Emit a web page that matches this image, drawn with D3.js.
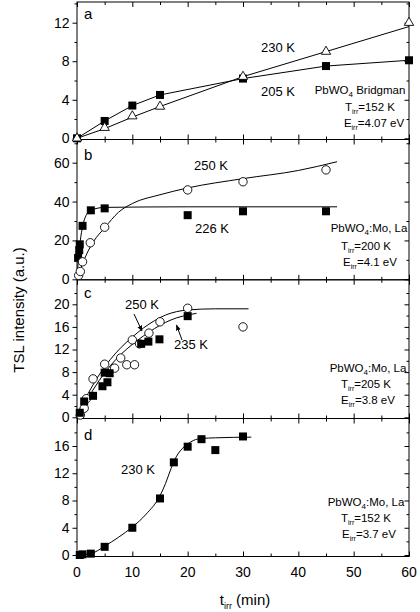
<!DOCTYPE html>
<meta charset="utf-8">
<style>
body { margin:0; background:#fff; }
text { font-family: "Liberation Sans", Arial, sans-serif; fill:#000; }
.domain { stroke:#000; }
.tick line { stroke:#000; }
</style>
<script src="https://d3js.org/d3.v7.min.js"></script>
<body>
<script>

var width = 420, height = 612

// x ticks (minutes)
var xMajor = [0,10,20,30,40,50,60]
var xMinor = [5,15,25,35,45,55]

// panel a : PbWO4 Bridgman
var a_t = [0,5,10,15,30,45,60]
var a_205 = [0,1.8,3.4,4.5,6.2,7.5,8.1]
var a_230 = [0,1.1,2.3,3.3,6.4,9.0,12.0]
var a_230fit = [[0,0],[5,1.0],[10,2.2],[15,3.3],[30,6.4],[45,9.0],[60,11.6]]

// panel b : PbWO4:Mo,La  Tirr=200 K
var b_t226 = [0.2,0.4,0.5,1,2.5,5,20,30,45]
var b_226 = [11,15,18,27.5,35.5,36.5,33,35,35]
var b_t250 = [0.3,0.6,1,2.4,5,20,30,45]
var b_250 = [2,4,9,18.8,26.8,46,50.2,56.3]
var b_226fit = [[0,0],[0.3,12],[0.6,20],[1,27],[1.5,32],[2.5,35.5],[5,37],[20,37.3],[47,37.3]]
var b_250fit = [[0,0],[1,8],[2,14.5],[3,19.5],[5,26.5],[7.5,34.5],[10,39],[15,43.5],[20,47],[30,51.8],[40,56],[47,60.5]]

// panel c : PbWO4:Mo,La  Tirr=205 K
var c_t250 = [0.6,1.3,1.7,2.9,5,6.8,7.9,9,10.4,10,11.3,13,15,20,30]
var c_250 = [0.4,1.6,3.3,6.8,9.4,8.7,10.5,9.3,9.3,13.7,13.0,14.9,16.9,19.3,16.0]
var c_t235 = [0.5,1.3,2.9,4.6,5.5,5,5.9,11.6,12.9,14.9,20]
var c_235 = [0.8,2.8,3.8,5.5,6.2,7.9,7.8,13.0,13.4,13.8,17.9]
var c_250fit = [[0,0.5],[2,4.2],[4,7.5],[6,10.2],[8,12.4],[10,14.2],[12,15.8],[14,17.1],[16,18.1],[18,18.7],[20,19.0],[25,19.2],[31,19.2]]
var c_235fit = [[0,0],[2,3.4],[4,6.5],[6,9.1],[8,11.2],[10,12.9],[12,14.4],[14,15.7],[16,16.8],[18,17.6],[20,18.1],[21.6,18.4]]

// panel d : PbWO4:Mo,La  Tirr=152 K
var d_t = [0.5,1,2.5,5,10,15,17.5,20,22.5,25,30]
var d_230 = [0,0.1,0.2,1.2,4.0,8.3,13.6,15.9,17.0,15.4,17.4]
var d_fit = [[0,0],[2.5,0.2],[5,1.3],[7.5,2.6],[10,4.1],[12.5,6],[15,8.7],[16,10.5],[17,12.7],[18,14.5],[19,15.6],[20,16.3],[21,16.8],[22.5,17.1],[25,17.2],[31.5,17.3]]

var x = d3.scaleLinear().domain([0,60]).range([77,409])

var svg = d3.select("body").append("svg").attr("width",width).attr("height",height)

var panels = [
  {id:"a", top:2, bottom:139.5, dom:[0,12], rng:[138.3,22.7], major:[0,4,8,12], minor:[2,6,10,14],
   letterY:19, note:["PbWO","4"," Bridgman"], noteX:[360,370,374], noteY:[94,111,127], T:"=152 K", E:"=4.07 eV"},
  {id:"b", top:139.5, bottom:279.8, dom:[0,60], rng:[279.3,162.7], major:[0,20,40,60], minor:[10,30,50,70],
   letterY:160, note:["PbWO","4",":Mo, La"], noteX:[369,366,370], noteY:[232,250,266], T:"=200 K", E:"=4.1 eV"},
  {id:"c", top:279.8, bottom:418.5, dom:[0,20], rng:[417.3,304.3], major:[0,4,8,12,16,20], minor:[2,6,10,14,18,22],
   letterY:298, note:["PbWO","4",":Mo, La"], noteX:[368,366,368], noteY:[372,388,404], T:"=205 K", E:"=3.8 eV"},
  {id:"d", top:418.5, bottom:556.5, dom:[0,16], rng:[555,446], major:[0,4,8,12,16], minor:[2,6,10,14,18],
   letterY:440, note:["PbWO","4",":Mo, La"], noteX:[366,366,369], noteY:[506,522,538], T:"=152 K", E:"=3.7 eV"}
]

panels.forEach(function(p){
  p.y = d3.scaleLinear().domain(p.dom).range(p.rng)
  var g = svg.append("g")
  var ticksIn = function(v){ return v.filter(function(t){ var py = p.y(t); return py>=p.top-0.5 && py<=p.bottom+0.5 }) }

  // left axis, outward ticks
  g.append("g").attr("transform","translate(77,0)")
    .call(d3.axisLeft(p.y).tickValues(ticksIn(p.minor)).tickSize(2.5).tickFormat(""))
    .call(function(s){ s.select(".domain").remove() })
  g.append("g").attr("transform","translate(77,0)")
    .call(d3.axisLeft(p.y).tickValues(p.major).tickSize(4.5).tickPadding(3))
    .call(function(s){ s.select(".domain").remove(); s.selectAll("text").style("font-size","14px") })
  // right axis, inward ticks
  g.append("g").attr("transform","translate(409,0)")
    .call(d3.axisRight(p.y).tickValues(p.major).tickSize(-4.5).tickFormat(""))
    .call(function(s){ s.select(".domain").remove() })
  g.append("g").attr("transform","translate(409,0)")
    .call(d3.axisRight(p.y).tickValues(ticksIn(p.minor)).tickSize(-2.5).tickFormat(""))
    .call(function(s){ s.select(".domain").remove() })
  // top / bottom inward ticks
  ;[[p.bottom,d3.axisBottom,-1],[p.top,d3.axisTop,-1]].forEach(function(e){
    g.append("g").attr("transform","translate(0,"+e[0]+")")
      .call(e[1](x).tickValues(xMajor).tickSize(-5).tickFormat(""))
      .call(function(s){ s.select(".domain").remove() })
    g.append("g").attr("transform","translate(0,"+e[0]+")")
      .call(e[1](x).tickValues(xMinor).tickSize(-3).tickFormat(""))
      .call(function(s){ s.select(".domain").remove() })
  })
  g.append("rect").attr("x",77).attr("y",p.top).attr("width",332).attr("height",p.bottom-p.top)
    .attr("fill","none").attr("stroke","#000").attr("stroke-width",1)

  g.append("text").attr("x",84).attr("y",p.letterY).style("font-size","15px").text(p.id)

  // sample note
  var fs = "11.5px"
  var t1 = g.append("text").attr("x",p.noteX[0]).attr("y",p.noteY[0]).attr("text-anchor","middle").style("font-size",fs)
  t1.append("tspan").text(p.note[0])
  t1.append("tspan").attr("dy",3).style("font-size","8px").text(p.note[1])
  t1.append("tspan").attr("dy",-3).text(p.note[2])
  var t2 = g.append("text").attr("x",p.noteX[1]).attr("y",p.noteY[1]).attr("text-anchor","middle").style("font-size",fs)
  t2.append("tspan").text("T")
  t2.append("tspan").attr("dy",3).style("font-size","7px").text("irr")
  t2.append("tspan").attr("dy",-3).text(p.T)
  var t3 = g.append("text").attr("x",p.noteX[2]).attr("y",p.noteY[2]).attr("text-anchor","middle").style("font-size",fs)
  t3.append("tspan").text("E")
  t3.append("tspan").attr("dy",3).style("font-size","7px").text("irr")
  t3.append("tspan").attr("dy",-3).text(p.E)
})

function line(p, pts, curve){
  svg.append("path").datum(pts)
    .attr("d", d3.line().x(function(d){return x(d[0])}).y(function(d){return p.y(d[1])}).curve(curve||d3.curveMonotoneX))
    .attr("fill","none").attr("stroke","#000").attr("stroke-width",1)
}
function squares(p, ts, vs){
  svg.append("g").selectAll("rect").data(ts).enter().append("rect")
    .attr("x",function(d){return x(d)-4}).attr("y",function(d,i){return p.y(vs[i])-4})
    .attr("width",8).attr("height",8).attr("fill","#000")
}
function circles(p, ts, vs){
  svg.append("g").selectAll("circle").data(ts).enter().append("circle")
    .attr("cx",function(d){return x(d)}).attr("cy",function(d,i){return p.y(vs[i])})
    .attr("r",4.2).attr("fill","#fff").attr("stroke","#000").attr("stroke-width",0.9)
}
function triangles(p, ts, vs){
  svg.append("g").selectAll("path").data(ts).enter().append("path")
    .attr("d",d3.symbol().type(d3.symbolTriangle).size(38))
    .attr("transform",function(d,i){return "translate("+x(d)+","+p.y(vs[i])+")"})
    .attr("fill","#fff").attr("stroke","#000").attr("stroke-width",0.9)
}
function label(tx, ty, s, fs){
  svg.append("text").attr("x",tx).attr("y",ty).attr("text-anchor","middle").style("font-size",fs||"13px").text(s)
}

var pa = panels[0], pb = panels[1], pc = panels[2], pd = panels[3]

// a
line(pa, a_t.map(function(t,i){return [t,a_205[i]]}), d3.curveLinear)
line(pa, a_230fit, d3.curveLinear)
squares(pa, a_t, a_205)
triangles(pa, a_t, a_230)
label(278, 52, "230 K"); label(278, 96, "205 K")

// b
line(pb, b_226fit); line(pb, b_250fit)
squares(pb, b_t226, b_226)
circles(pb, b_t250, b_250)
label(211, 170, "250 K"); label(212, 233, "226 K")

// c
line(pc, c_250fit); line(pc, c_235fit)
circles(pc, c_t250, c_250)
squares(pc, c_t235, c_235)
label(142, 309, "250 K"); label(191, 349, "235 K")
svg.append("defs").append("marker").attr("id","ah").attr("viewBox","0 0 10 10").attr("refX",9).attr("refY",5)
  .attr("markerWidth",6).attr("markerHeight",6).attr("orient","auto")
  .append("path").attr("d","M0,1L10,5L0,9z").attr("fill","#000")
svg.append("line").attr("x1",134).attr("y1",314).attr("x2",142).attr("y2",331).attr("stroke","#000").attr("marker-end","url(#ah)")
svg.append("line").attr("x1",182).attr("y1",340).attr("x2",176.5).attr("y2",325).attr("stroke","#000").attr("marker-end","url(#ah)")

// d
line(pd, d_fit)
squares(pd, d_t, d_230)
label(138, 474, "230 K")

// bottom tick labels
svg.append("g").selectAll("text").data(xMajor).enter().append("text")
  .attr("x",function(d){return x(d)}).attr("y",577).attr("text-anchor","middle").style("font-size","14px").text(function(d){return d})

var xl = svg.append("text").attr("x",245).attr("y",605).attr("text-anchor","middle").style("font-size","15px")
xl.append("tspan").text("t")
xl.append("tspan").attr("dy",4).style("font-size","9px").text("irr")
xl.append("tspan").attr("dy",-4).text(" (min)")

svg.append("text").attr("transform","translate(24,310) rotate(-90)").attr("text-anchor","middle")
  .style("font-size","15px").text("TSL intensity (a.u.)")

</script>
</body>
